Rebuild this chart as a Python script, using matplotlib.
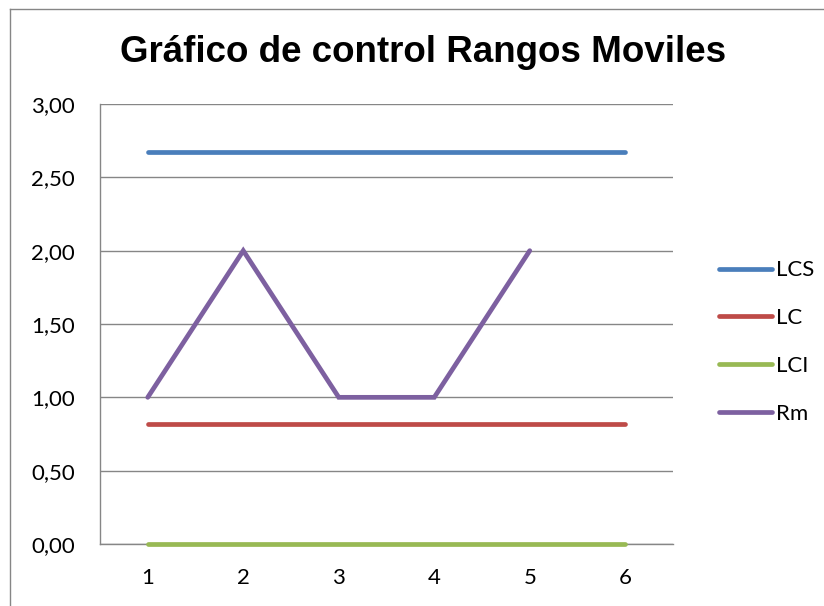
import matplotlib.pyplot as plt
from matplotlib.lines import Line2D

# Data
x_points = [1, 2, 3, 4, 5, 6]
lcs = [2.673, 2.673, 2.673, 2.673, 2.673, 2.673]
lc = [0.818, 0.818, 0.818, 0.818, 0.818, 0.818]
lci = [0, 0, 0, 0, 0, 0]
rm_x = [1, 2, 3, 4, 5]
rm = [1, 2, 1, 1, 2]
y_ticks = [0, 0.5, 1.0, 1.5, 2.0, 2.5, 3.0]

W, H = 824, 606
fig = plt.figure(figsize=(W / 100, H / 100), dpi=100)
ax = fig.add_axes([100 / W, (H - 544) / H, 573 / W, 440 / H])

grey = '#868686'
lw = 3.4
ax.plot(x_points, lcs, color='#4A7EBB', lw=lw, solid_capstyle='round',
        label='LCS', zorder=3, clip_on=False)
ax.plot(x_points, lc, color='#BE4B48', lw=lw, solid_capstyle='round',
        label='LC', zorder=3, clip_on=False)
ax.plot(x_points, lci, color='#98B954', lw=lw, solid_capstyle='round',
        label='LCI', zorder=3, clip_on=False)
ax.plot(rm_x, rm, color='#7D60A0', lw=lw, solid_capstyle='round',
        solid_joinstyle='miter', label='Rm', zorder=4, clip_on=False)

ax.set_xlim(0.5, 6.5)
ax.set_ylim(0, 3)
ax.set_xticks(x_points)
ax.set_yticks(y_ticks)
ax.set_yticklabels([f'{v:.2f}'.replace('.', ',') for v in y_ticks])
ax.yaxis.grid(True, color=grey, lw=1.0)
ax.set_axisbelow(True)
for s in ['top', 'right']:
    ax.spines[s].set_visible(False)
for s in ['left', 'bottom']:
    ax.spines[s].set_color(grey)
    ax.spines[s].set_linewidth(1.0)
    ax.spines[s].set_zorder(1)
ax.tick_params(axis='both', length=0, labelsize=16, labelcolor='black')
ax.tick_params(axis='y', pad=18)
ax.tick_params(axis='x', pad=17)
for t in ax.get_xticklabels() + ax.get_yticklabels():
    t.set_family('Lato')

# Title
fig.text(423 / W, 1 - 53 / H, 'Gráfico de control Rangos Moviles',
         ha='center', va='center', fontsize=26.5, fontweight='bold',
         family='Liberation Sans')

# Legend
leg = ax.legend(loc='center left', bbox_to_anchor=(708 / W, 1 - 342 / H),
                bbox_transform=fig.transFigure, frameon=False,
                prop={'family': 'Lato', 'size': 16}, handlelength=2.4,
                handletextpad=0.15, labelspacing=1.25, borderpad=0)

# Chart border (left and top edges only are in view)
x0, y0 = 9.5 / W, 1 - 8.5 / H
fig.lines.append(Line2D([x0, x0], [0, y0], transform=fig.transFigure, color=grey, lw=1.0))
fig.lines.append(Line2D([x0, 1], [y0, y0], transform=fig.transFigure, color=grey, lw=1.0))

fig.savefig('out.png', dpi=100, facecolor='white')
